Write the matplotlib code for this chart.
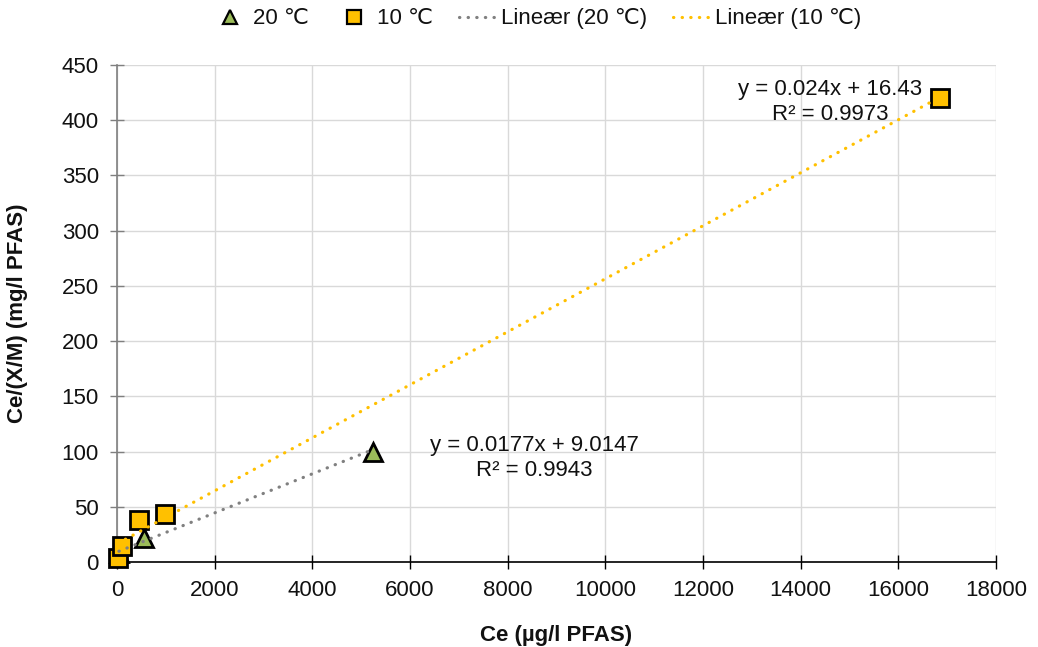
import numpy as np
import matplotlib
matplotlib.use("Agg")
import matplotlib.pyplot as plt
from matplotlib.lines import Line2D

plt.rcParams['font.family'] = ['Liberation Sans', 'DejaVu Sans']

# Data
x20 = [40, 549, 5240]
y20 = [8, 21.5, 100]
x10 = [16, 106, 447, 990, 16850]
y10 = [3.9, 14.5, 38.3, 43.7, 420]

fit20 = (0.0177, 9.0147)
fit10 = (0.024, 16.43)

label20 = "20 ℃"
label10 = "10 ℃"
lin20 = "Lineær (20 ℃)"
lin10 = "Lineær (10 ℃)"
eq20 = "y = 0.0177x + 9.0147\nR² = 0.9943"
eq10 = "y = 0.024x + 16.43\nR² = 0.9973"

xticks = np.arange(0, 18001, 2000)
yticks = np.arange(0, 451, 50)

green = '#9BBB59'
yellow = '#FFC000'
gray = '#808080'
textc = '#111111'

fig = plt.figure(figsize=(10.38, 6.47), dpi=100)
ax = fig.add_axes([0.1127, 0.1314, 0.9595 - 0.1127, 0.8995 - 0.1314])

ax.set_xlim(0, 18000)
ax.set_ylim(0, 450)
ax.set_xticks(xticks)
ax.set_yticks(yticks)
ax.grid(True, color='#D9D9D9', linewidth=1.0)
ax.set_axisbelow(True)

ax.plot(x20, y20, linestyle='none', marker='^', markersize=13, markerfacecolor=green,
        markeredgecolor='black', markeredgewidth=2.0, clip_on=False, zorder=3)
ax.plot(x10, y10, linestyle='none', marker='s', markersize=12.7, markerfacecolor=yellow,
        markeredgecolor='black', markeredgewidth=2.0, clip_on=False, zorder=4)

dot = (0, (0.1, 2.6))
xs20 = np.array([min(x20), max(x20)])
xs10 = np.array([min(x10), max(x10)])
ax.plot(xs20, fit20[0] * xs20 + fit20[1], color=gray, linestyle=dot, linewidth=2.3,
        dash_capstyle='round', zorder=5)
ax.plot(xs10, fit10[0] * xs10 + fit10[1], color=yellow, linestyle=dot, linewidth=2.3,
        dash_capstyle='round', zorder=5)

ax.text(8555, 94.2, eq20, ha='center', va='center', multialignment='center',
        fontsize=16, linespacing=1.2, color=textc, zorder=6)
ax.text(14600, 416.5, eq10, ha='center', va='center', multialignment='center',
        fontsize=16, linespacing=1.2, color=textc, zorder=6)

for s in ['top', 'right']:
    ax.spines[s].set_visible(False)
ax.spines['left'].set_color('#7F7F7F')
ax.spines['left'].set_linewidth(1.2)
ax.spines['bottom'].set_color('black')
ax.spines['bottom'].set_linewidth(1.2)

ax.tick_params(axis='x', direction='inout', length=10, width=1.0, color='black',
               labelsize=16, pad=8, labelcolor=textc)
ax.tick_params(axis='y', direction='inout', length=10, width=1.0, color='#7F7F7F',
               labelsize=16, pad=8, labelcolor=textc)

ax.set_xlabel("Ce (µg/l PFAS)", fontsize=16, fontweight='bold', labelpad=17, color=textc)
ax.set_ylabel("Ce/(X/M) (mg/l PFAS)", fontsize=16, fontweight='bold', labelpad=24, color=textc)

handles = [
    Line2D([], [], linestyle='none', marker='^', markersize=10, markerfacecolor=green,
           markeredgecolor='black', markeredgewidth=1.6),
    Line2D([], [], linestyle='none', marker='s', markersize=9.5, markerfacecolor=yellow,
           markeredgecolor='black', markeredgewidth=1.6),
    Line2D([], [], color=gray, linestyle=dot, linewidth=2.3, dash_capstyle='round'),
    Line2D([], [], color=yellow, linestyle=dot, linewidth=2.3, dash_capstyle='round'),
]
leg = fig.legend(handles, [label20, label10, lin20, lin10], loc='upper center',
                 bbox_to_anchor=(0.5165, 1.018), ncol=4, frameon=False, fontsize=16,
                 handlelength=1.71, handletextpad=0.18, columnspacing=1.17)
for t in leg.get_texts():
    t.set_color(textc)

fig.savefig("out.png", dpi=100)
